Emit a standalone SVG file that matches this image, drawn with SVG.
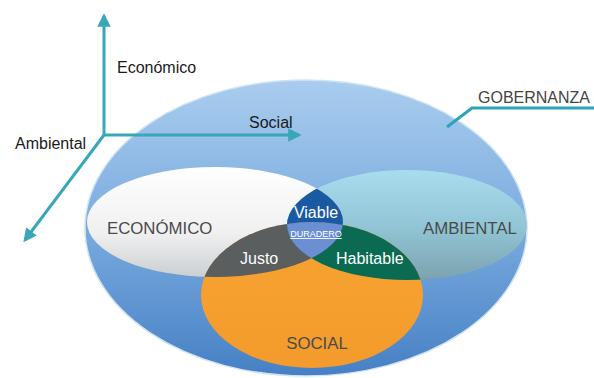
<svg xmlns="http://www.w3.org/2000/svg" width="594" height="378" viewBox="0 0 594 378">
<style>
.lbl{font-family:"Liberation Sans",Arial,sans-serif;font-size:16px;fill:#1a1a1a}
.cap{font-family:"Liberation Sans",Arial,sans-serif;font-size:16.8px;fill:#4a4a4a}
.wt{font-family:"Liberation Sans",Arial,sans-serif;font-size:16px;fill:#ffffff}
.axis{stroke:#3aa6b9;stroke-width:3;fill:none}
</style>
<defs>
<linearGradient id="gBig" x1="0" y1="0" x2="0" y2="1">
<stop offset="0" stop-color="#aacdee"/><stop offset="0.5" stop-color="#7aabdf"/><stop offset="1" stop-color="#4680c4"/>
</linearGradient>
<linearGradient id="gEco" x1="0" y1="0" x2="0" y2="1">
<stop offset="0" stop-color="#ffffff"/><stop offset="0.6" stop-color="#f0f0f0"/><stop offset="1" stop-color="#cbcfd2"/>
</linearGradient>
<linearGradient id="gAmb" x1="0" y1="0" x2="0" y2="1">
<stop offset="0" stop-color="#a9dcee"/><stop offset="0.5" stop-color="#92c6d6"/><stop offset="1" stop-color="#7ca2b0"/>
</linearGradient>
<linearGradient id="gSoc" x1="0" y1="0" x2="0" y2="1">
<stop offset="0" stop-color="#f7a431"/><stop offset="1" stop-color="#f39b2c"/>
</linearGradient>
<clipPath id="cEco"><ellipse cx="215" cy="222" rx="128" ry="55"/></clipPath>
<clipPath id="cAmb"><ellipse cx="407" cy="225" rx="120" ry="55"/></clipPath>
<marker id="arr" viewBox="0 0 10 10" refX="8" refY="5" markerWidth="4.5" markerHeight="4.5" orient="auto" markerUnits="strokeWidth">
<path d="M0,0 L10,5 L0,10 z" fill="#3aa6b9"/>
</marker>
</defs>
<rect width="594" height="378" fill="#ffffff"/>

<g id="gobernanza">
<ellipse cx="306" cy="228" rx="221" ry="148" fill="url(#gBig)" stroke="#cfe3f4" stroke-width="1.5"/>
</g>

<g id="economico">
<ellipse cx="215" cy="222" rx="128" ry="55" fill="url(#gEco)"/>
</g>
<g id="ambiental">
<ellipse cx="407" cy="225" rx="120" ry="55" fill="url(#gAmb)"/>
</g>
<g id="social">
<ellipse cx="312" cy="295" rx="111" ry="73" fill="url(#gSoc)"/>
</g>

<g id="viable">
<g clip-path="url(#cEco)"><ellipse cx="407" cy="225" rx="120" ry="55" fill="#1b5aa2"/></g>
</g>
<g id="justo">
<g clip-path="url(#cEco)"><ellipse cx="312" cy="295" rx="111" ry="73" fill="#5a5e5e"/></g>
</g>
<g id="habitable">
<g clip-path="url(#cAmb)"><ellipse cx="312" cy="295" rx="111" ry="73" fill="#0b6b52"/></g>
</g>
<g id="duradero">
<g clip-path="url(#cEco)"><g clip-path="url(#cAmb)"><ellipse cx="312" cy="295" rx="111" ry="73" fill="#6b8fd2"/></g></g>
</g>

<g id="connectors">
<line class="axis" x1="104" y1="136" x2="104" y2="16" marker-end="url(#arr)"/>
<line class="axis" x1="103" y1="135" x2="299" y2="135" marker-end="url(#arr)"/>
<line class="axis" x1="104" y1="135" x2="25" y2="240" marker-end="url(#arr)"/>
<polyline points="447,127 472,108 594,108" fill="none" stroke="#2aa3bb" stroke-width="3"/>
</g>

<g id="labels">
<text class="lbl" x="117" y="73">Económico</text>
<text class="lbl" x="249" y="128">Social</text>
<text class="lbl" x="15" y="149">Ambiental</text>
<text class="lbl" x="478" y="103" style="fill:#444">GOBERNANZA</text>
<text class="cap" x="107" y="234">ECONÓMICO</text>
<text class="cap" x="423" y="234">AMBIENTAL</text>
<text class="cap" x="317" y="349" text-anchor="middle">SOCIAL</text>
<text class="wt" x="316" y="218" text-anchor="middle">Viable</text>
<text x="316" y="237" text-anchor="middle" font-family="Liberation Sans, Arial, sans-serif" font-size="9" fill="#ffffff" text-decoration="underline">DURADERO</text>
<text class="wt" x="240" y="264">Justo</text>
<text class="wt" x="336" y="264">Habitable</text>
</g>
</svg>
